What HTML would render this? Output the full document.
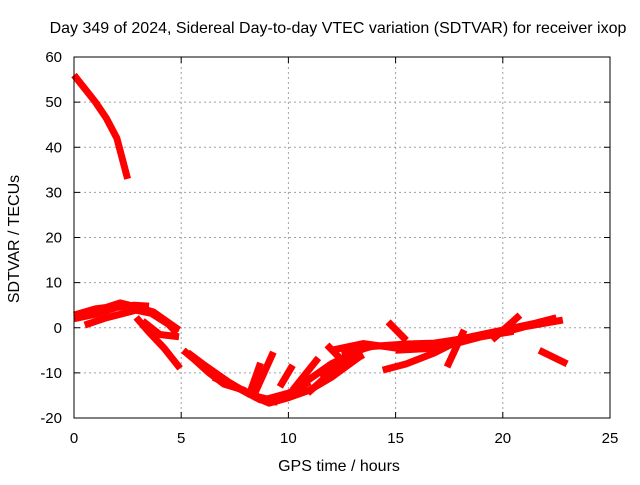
<!DOCTYPE html>
<html><head><meta charset="utf-8"><style>
body{margin:0;background:#fff}
svg text{font-family:"Liberation Sans",sans-serif;font-size:15px;fill:#000}
svg text.big{font-size:16px}
</style></head><body>
<svg id="chart" width="640" height="480">
<text class="big" x="338" y="33" text-anchor="middle">Day 349 of 2024, Sidereal Day-to-day VTEC variation (SDTVAR) for receiver ixop</text>
<g id="grid"></g>
<g id="series"></g>
<rect x="74" y="57" width="536" height="361" fill="none" stroke="#000" stroke-width="1"/>
<g id="ticks"></g>
<text class="big" x="339" y="471" text-anchor="middle">GPS time / hours</text>
<text class="big" transform="translate(19,239) rotate(-90)" text-anchor="middle">SDTVAR / TECUs</text>
</svg>
<script>
const xTicks=[0,5,10,15,20,25];
const yTicks=[-20,-10,0,10,20,30,40,50,60];
const seg1=[[0,56],[0.5,53],[1,50],[1.5,46.5],[2,42],[2.5,33]];
const seg2=[[0,2.8],[0.5,3.5],[1,4.2],[1.5,4.5],[2.15,5.5],[3,4.5],[3.7,3.5],[4.3,1.5],[4.9,-0.5]];
const seg3=[[0.5,0.6],[1.5,2.2],[2.9,3.9],[3.6,3.2],[4.4,0.8],[4.8,-1.2]];
const seg4=[[2.9,2.3],[3.5,-1],[4.2,-4.5],[4.95,-9]];
const seg5=[[3.2,1.5],[4,-1.5],[4.9,-2]];
const seg6=[[5.1,-5],[5.6,-7],[6.3,-10],[7,-12.5],[7.9,-13.8],[8.5,-15.5],[9.1,-16.7],[10,-15.5],[11,-13.8],[12,-11],[13.3,-6.5]];
const seg7=[[5.3,-5.5],[6,-8],[7.2,-12],[8.2,-14.8],[9,-15.8],[10,-14.5],[11,-12]];
const seg8=[[8.2,-14.5],[8.7,-7.8]];
const seg9=[[8.35,-15.4],[9.3,-5.4]];
const seg10=[[9.6,-13.1],[10.2,-8.3]];
const seg11=[[10.2,-13.8],[11.4,-6.7]];
const seg12=[[10.9,-14.5],[13.3,-4.3]];
const seg13=[[11.8,-3.8],[12.5,-7.2]];
const seg14=[[10.5,-13],[12,-8],[13.7,-4.2],[15.5,-3.6],[16.8,-3.4],[18.5,-2.2],[19.9,-1.2],[21,0.2],[22.8,1.7]];
const seg15=[[14.4,-9.4],[15.5,-8],[16.8,-5.6],[18.3,-2]];
const seg16=[[14.65,1.3],[15.5,-2.8]];
const seg17=[[17.4,-8.7],[18.2,-0.5]];
const seg18=[[19.5,-2.7],[20.8,2.8]];
const seg19=[[21.7,-5],[23,-8]];
const seg20=[[12,-5],[13.5,-3.5],[15,-4.5],[16.5,-4]];
const seg21=[[0,2],[1,3],[2,4.5],[2.8,5],[3.5,4.8]];
const seg22=[[12.5,-6],[14,-4],[16,-4.2],[18,-2.5],[20,-0.5],[21.5,1],[22.5,2.2]];
const seg23=[[15,-5],[17,-4.5],[19,-2],[20.5,-0.8]];
const seg24=[[11.5,-11],[12.5,-8.5],[13.5,-6]];
const seg25=[[6.5,-11],[7.5,-13],[8.7,-16],[9.5,-16.5]];
const segments=[seg1,seg2,seg3,seg4,seg5,seg6,seg7,seg8,seg9,seg10,seg11,seg12,seg13,seg14,seg15,seg16,seg17,seg18,seg19,seg20,seg21,seg22,seg23,seg24,seg25];
const X=h=>74+h*536/25;
const Y=v=>57+(60-v)*361/80;
const NS="http://www.w3.org/2000/svg";
const grid=document.getElementById('grid'),ticks=document.getElementById('ticks'),ser=document.getElementById('series');
function mk(tag,attrs,parent){const e=document.createElementNS(NS,tag);for(const k in attrs)e.setAttribute(k,attrs[k]);parent.appendChild(e);return e;}
xTicks.forEach(t=>{
  const x=X(t);
  if(t>0&&t<25){const g=mk('line',{x1:x,x2:x,y1:57,y2:418,stroke:'#a0a0a0','stroke-dasharray':'2,3'},grid);
  
  }
  mk('line',{x1:x,x2:x,y1:418,y2:412,stroke:'#000'},ticks);
  mk('line',{x1:x,x2:x,y1:57,y2:63,stroke:'#000'},ticks);
  const l=mk('text',{x:x,y:443,'text-anchor':'middle'},ticks);l.textContent=t;
  
  
});
yTicks.forEach(t=>{
  const y=Y(t);
  if(t>-20&&t<60){const g=mk('line',{x1:74,x2:610,y1:y,y2:y,stroke:'#a0a0a0','stroke-dasharray':'2,3'},grid);
  
  }
  mk('line',{x1:74,x2:80,y1:y,y2:y,stroke:'#000'},ticks);
  mk('line',{x1:604,x2:610,y1:y,y2:y,stroke:'#000'},ticks);
  const l=mk('text',{x:62,y:y+5,'text-anchor':'end'},ticks);l.textContent=t;
  
  
});
segments.forEach(s=>{
  const p=mk('polyline',{points:s.map(d=>X(d[0])+','+Y(d[1])).join(' '),fill:'none',stroke:'#ff0000','stroke-width':7,'stroke-linejoin':'round'},ser);
  
  
});
</script>
</body></html>
